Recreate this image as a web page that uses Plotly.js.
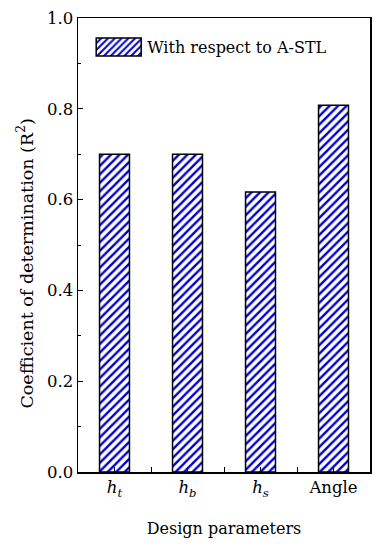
<!DOCTYPE html>
<html><head><meta charset="utf-8">
<script src="https://cdn.plot.ly/plotly-3.0.1.min.js"></script>
<style>body{margin:0;padding:0;background:#fff}</style>
</head><body>
<div id="chart" style="width:381px;height:550px"></div>
<script>
const categories = ["h_t", "h_b", "h_s", "Angle"];
const xPos = [0, 1, 2, 3];
const r2Values = [0.70, 0.70, 0.617, 0.808];
const tickVals = [0, 0.5, 1, 1.5, 2, 2.5, 3];
const tickLabels = ["<i>h<sub>t</sub></i>", "", "<i>h<sub>b</sub></i>", "", "<i>h<sub>s</sub></i>", "", "Angle"];
const seriesName = "With respect to A-STL";
const yTitle = "Coefficient of determination (R<sup>2</sup>)";
const xTitle = "Design parameters";

const font = "DejaVu Serif, Liberation Serif, serif";
const trace = {
  type: "bar",
  x: xPos,
  y: r2Values,
  name: seriesName,
  width: 0.41,
  showlegend: true,
  marker: {
    color: "#ffffff",
    line: {color: "#000000", width: 1.5},
    pattern: {shape: "/", fgcolor: "#0000cc", bgcolor: "#ffffff", size: 6, solidity: 0.4}
  },
  hoverinfo: "none"
};
const layout = {
  width: 381, height: 550,
  margin: {l: 78, r: 11, t: 18, b: 78},
  paper_bgcolor: "#fff", plot_bgcolor: "#fff",
  font: {family: font, size: 16, color: "#000"},
  showlegend: true,
  legend: {x: 0.1, y: 0.975, xanchor: "left", yanchor: "top", bgcolor: "rgba(0,0,0,0)", font: {size: 16}},
  xaxis: {
    range: [-0.5, 3.5],
    tickmode: "array", tickvals: tickVals, ticktext: tickLabels,
    ticks: "inside", ticklen: 5, tickwidth: 1, tickcolor: "#000",
    showline: true, linecolor: "#000", linewidth: 1.5, mirror: true,
    showgrid: false, zeroline: false,
    tickfont: {size: 16.5},
    title: {text: xTitle, font: {size: 16}, standoff: 24}
  },
  yaxis: {
    range: [0, 1.0],
    tickmode: "linear", tick0: 0, dtick: 0.2, tickformat: ".1f",
    ticks: "inside", ticklen: 5, tickwidth: 1, tickcolor: "#000",
    minor: {dtick: 0.1, ticks: "inside", ticklen: 3, tickcolor: "#000", showgrid: false},
    showline: true, linecolor: "#000", linewidth: 1.5, mirror: true,
    showgrid: false, zeroline: false,
    tickfont: {size: 16.5}
  },
  annotations: [{
    text: yTitle, textangle: -90, showarrow: false,
    xref: "paper", yref: "paper", x: -0.18, y: 0.46,
    xanchor: "center", yanchor: "middle",
    font: {size: 17.5}
  }]
};
Plotly.newPlot("chart", [trace], layout, {displayModeBar: false, staticPlot: true}).then(function (gd) {
  // enlarge the legend swatch to a wide rectangle like the reference
  const sb = gd.querySelector(".legend .scrollbox");
  if (sb) sb.removeAttribute("clip-path");
  const txt = gd.querySelector(".legend .legendtext");
  const pth = gd.querySelector(".legend .legendpoints path");
  if (!txt || !pth) return;
  const tb = txt.getBoundingClientRect();
  const m = pth.getScreenCTM().inverse();
  const svg = pth.ownerSVGElement;
  function toLocal(x, y) {
    const p = svg.createSVGPoint(); p.x = x; p.y = y;
    return p.matrixTransform(m);
  }
  const cy = tb.top + tb.height / 2;
  const a = toLocal(tb.left - 51, cy - 9);
  const b = toLocal(tb.left - 6, cy + 9);
  pth.setAttribute("d", "M" + a.x + "," + a.y + "H" + b.x + "V" + b.y + "H" + a.x + "Z");
});
</script>
</body></html>
